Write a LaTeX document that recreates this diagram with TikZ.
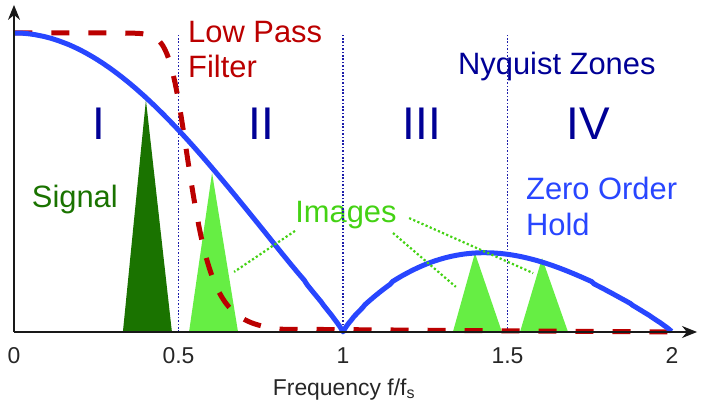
\documentclass[tikz,border=0pt]{standalone}
\usepackage{fontspec}
\setmainfont{Liberation Sans}
\usetikzlibrary{arrows.meta}
\definecolor{zohblue}{RGB}{40,70,255}
\definecolor{lpfred}{RGB}{187,0,0}
\definecolor{nyqblue}{RGB}{0,0,150}
\definecolor{nyqdot}{RGB}{30,30,170}
\definecolor{sigdark}{RGB}{26,115,0}
\definecolor{imglight}{RGB}{102,238,68}
\definecolor{imgtext}{RGB}{68,210,20}
\begin{document}
\begin{tikzpicture}[x=329bp, y=299bp,
  lbl/.style={inner sep=0pt,font=\fontsize{31}{35.5}\selectfont,align=left},
  zone/.style={inner sep=0pt,text=nyqblue,font=\fontsize{46}{50}\selectfont},
  tick/.style={inner sep=0pt,anchor=base,text=black!85,font=\fontsize{23}{27}\selectfont},
  nyqline/.style={nyqdot,line width=1.6bp,dash pattern=on 1.6bp off 1.8bp},
  pointer/.style={imgtext,line width=2.2bp,dash pattern=on 2.2bp off 2.3bp},
  axis/.style={black!90,line width=1.4bp,-{Stealth[length=15bp,width=12bp]}}]
  \useasboundingbox (-0.04255,-0.26087) rectangle (2.09119,1.11037);
  % labels
  \node[lbl,text=lpfred,anchor=north west] (lpf) at (0.529,1.040) {Low Pass\\Filter};
  \node[lbl,text=zohblue,anchor=north west] (zoh) at (1.556,0.518) {Zero Order\\Hold};
  \node[lbl,text=nyqblue,anchor=base] (nyq) at (1.650,0.860) {Nyquist Zones};
  \node[lbl,text=sigdark,anchor=base] (sig) at (0.185,0.415) {Signal};
  \node[lbl,text=imgtext,anchor=base] (img) at (1.009,0.365) {Images};
  \node[zone] (z1) at (0.258,0.697) {I};
  \node[zone] (z2) at (0.751,0.697) {II};
  \node[zone] (z3) at (1.240,0.697) {III};
  \node[zone] (z4) at (1.745,0.697) {IV};
  % spectra
  \fill[sigdark] (0.331,0) -- (0.401,0.776) -- (0.480,0) -- cycle;
  \fill[imglight] (0.532,0) -- (0.602,0.532) -- (0.681,0) -- cycle;
  \fill[imglight] (1.334,0) -- (1.401,0.264) -- (1.483,0) -- cycle;
  \fill[imglight] (1.538,0) -- (1.605,0.247) -- (1.684,0) -- cycle;
  \foreach \f in {0.5,1,1.5} \draw[nyqline] (\f,0) -- (\f,0.993);
  \draw[lpfred,line width=5bp,dash pattern=on 18bp off 19bp]
    plot[domain=0.001:0.85,samples=140] (\x,{1/sqrt(1+exp(max(min(20*ln(\x/0.51),9.4),-20)))}) -- (2,0);
  \draw[zohblue,line width=5bp,line join=round]
    plot[domain=0.001:1,samples=120] (\x,{(abs(sin(180*\x))/(pi*\x)+0.0001)^0.87})
    -- plot[domain=1:2,samples=120] (\x,{(abs(sin(180*\x))/(pi*\x)+0.0001)^0.87});
  % pointers from the label
  \coordinate (p1a) at (0.854,0.338); \coordinate (p1b) at (0.669,0.201);
  \coordinate (p2a) at (1.152,0.331); \coordinate (p2b) at (1.343,0.151);
  \coordinate (p3a) at (1.201,0.381); \coordinate (p3b) at (1.578,0.197);
  \draw[pointer] (p1a) -- (p1b);
  \draw[pointer] (p2a) -- (p2b);
  \draw[pointer] (p3a) -- (p3b);
  % axes
  \coordinate (org) at (0,0);
  \coordinate (xend) at (2.076,0);
  \coordinate (yend) at (0,1.094);
  \draw[axis] (org) -- (xend);
  \draw[axis] (org) -- (yend);
  \foreach \f [count=\i] in {0,0.5,1,1.5,2} \node[tick] (tk\i) at (\f,-0.104) {\f};
  \node[tick] (freq) at (1.003,-0.211) {Frequency f/f\textsubscript{s}};
\end{tikzpicture}
\end{document}
